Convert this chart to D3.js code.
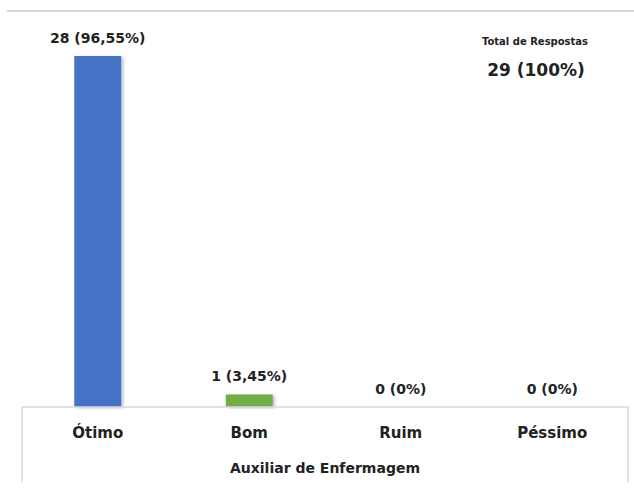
<!DOCTYPE html>
<html>
<head>
<meta charset="utf-8">
<script src="https://cdn.jsdelivr.net/npm/d3@7"></script>
<style>
  html, body { margin: 0; padding: 0; background: #fff; }
  svg { display: block; }
</style>
</head>
<body>
<svg id="chart" width="634" height="492"></svg>
<script>
const categories = ["Ótimo", "Bom", "Ruim", "Péssimo"];
const counts = [28, 1, 0, 0];
const valueLabels = ["28 (96,55%)", "1 (3,45%)", "0 (0%)", "0 (0%)"];
const barColors = ["#4472C4", "#70AD47", "#A5A5A5", "#FFC000"];
const axisTitle = "Auxiliar de Enfermagem";
const totalTitle = "Total de Respostas";
const totalValue = "29 (100%)";

const svg = d3.select("#chart");
const FONT = "'DejaVu Sans', sans-serif";

const x = d3.scaleBand().domain(categories).range([22, 628])
  .paddingInner(0.69).paddingOuter(0.345);
const y = d3.scaleLinear().domain([0, 28]).range([407, 56]);

const defs = svg.append("defs");
const f = defs.append("filter").attr("id", "sh").attr("x", "-20%").attr("y", "-5%").attr("width", "150%").attr("height", "115%");
f.append("feDropShadow").attr("dx", 2).attr("dy", 1).attr("stdDeviation", 1.5)
  .attr("flood-color", "#000").attr("flood-opacity", 0.25);

// top separator line
svg.append("line").attr("x1", 7).attr("x2", 634).attr("y1", 11).attr("y2", 11)
  .attr("stroke", "#d9d9d9").attr("stroke-width", 2);

// bars
svg.selectAll("rect.bar").data(categories).join("rect")
  .attr("class", "bar")
  .attr("x", d => x(d))
  .attr("width", x.bandwidth())
  .attr("y", (d, i) => y(counts[i]))
  .attr("height", (d, i) => y(0) - y(counts[i]))
  .attr("fill", (d, i) => barColors[i])
  .attr("filter", "url(#sh)");

// value labels
svg.selectAll("text.val").data(categories).join("text")
  .attr("class", "val")
  .attr("x", d => x(d) + x.bandwidth() / 2)
  .attr("y", (d, i) => y(counts[i]) - 13)
  .attr("text-anchor", "middle")
  .attr("font-family", FONT).attr("font-weight", "bold").attr("font-size", 14)
  .attr("fill", "#222")
  .text((d, i) => valueLabels[i]);

// axis box (table-like)
const axisG = svg.append("g");
axisG.append("path")
  .attr("d", `M22,482 V407 H628 V482`)
  .attr("fill", "none").attr("stroke", "#d9d9d9").attr("stroke-width", 1.5);

const xAxis = d3.axisBottom(x).tickSize(0).tickPadding(0);
const ax = svg.append("g").attr("transform", "translate(0,407)").call(xAxis);
ax.select(".domain").remove();
ax.selectAll("text")
  .attr("y", 31).attr("dy", 0)
  .attr("font-family", FONT).attr("font-weight", "bold").attr("font-size", 15)
  .attr("fill", "#222");

svg.append("text")
  .attr("x", (22 + 628) / 2).attr("y", 473)
  .attr("text-anchor", "middle")
  .attr("font-family", FONT).attr("font-weight", "bold").attr("font-size", 14)
  .attr("fill", "#222")
  .text(axisTitle);

// total box
svg.append("text")
  .attr("x", 535).attr("y", 45)
  .attr("text-anchor", "middle")
  .attr("font-family", FONT).attr("font-weight", "bold").attr("font-size", 10)
  .attr("fill", "#222")
  .text(totalTitle);
svg.append("text")
  .attr("x", 536).attr("y", 76)
  .attr("text-anchor", "middle")
  .attr("font-family", FONT).attr("font-weight", "bold").attr("font-size", 17)
  .attr("fill", "#222")
  .text(totalValue);
</script>
</body>
</html>
